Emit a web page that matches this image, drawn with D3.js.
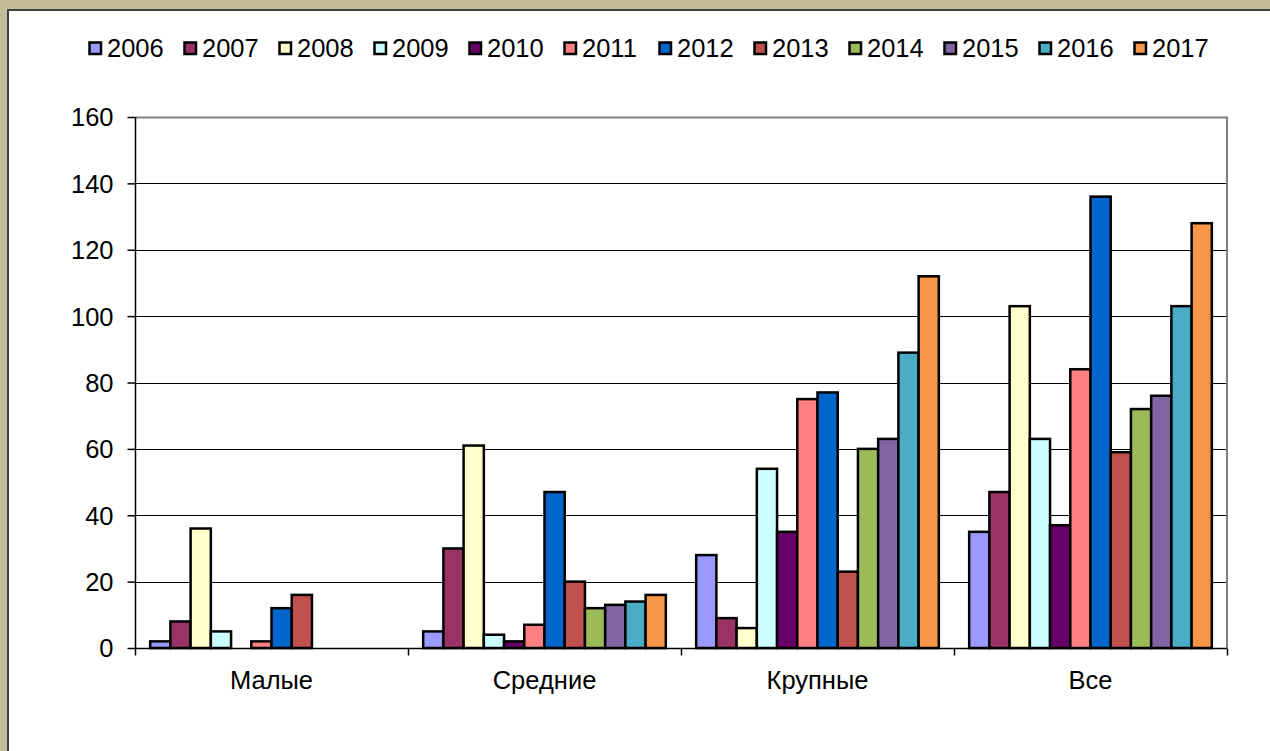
<!DOCTYPE html>
<html>
<head>
<meta charset="utf-8">
<script src="https://cdn.jsdelivr.net/npm/d3@7"></script>
<style>
  html, body { margin: 0; padding: 0; background: #c4bd98; }
  svg { display: block; }
  text { font-family: Arial, "Liberation Sans", sans-serif; fill: #000; }
</style>
</head>
<body>
<svg id="chart" width="1270" height="751"></svg>
<script>
const categories = ["Малые", "Средние", "Крупные", "Все"];
const years = ["2006","2007","2008","2009","2010","2011","2012","2013","2014","2015","2016","2017"];
const v2006 = [2, 5, 28, 35];
const v2007 = [8, 30, 9, 47];
const v2008 = [36, 61, 6, 103];
const v2009 = [5, 4, 54, 63];
const v2010 = [0, 2, 35, 37];
const v2011 = [2, 7, 75, 84];
const v2012 = [12, 47, 77, 136];
const v2013 = [16, 20, 23, 59];
const v2014 = [0, 12, 60, 72];
const v2015 = [0, 13, 63, 76];
const v2016 = [0, 14, 89, 103];
const v2017 = [0, 16, 112, 128];
const yTicks = [0, 20, 40, 60, 80, 100, 120, 140, 160];
const colors = ["#9999FF","#993366","#FFFFCC","#CCFFFF","#660066","#FF8080","#0066CC","#C0504D","#9BBB59","#8064A2","#4BACC6","#F79646"];

const seriesValues = [v2006,v2007,v2008,v2009,v2010,v2011,v2012,v2013,v2014,v2015,v2016,v2017];
const FONT = "Arial, 'Liberation Sans', sans-serif";
const FS = "25.5px";

const svg = d3.select("#chart");

// chart area (white panel with dark border on top/left)
svg.append("rect").attr("x", 8).attr("y", 10).attr("width", 1275).attr("height", 760)
  .attr("fill", "#fff").attr("stroke", "#404040").attr("stroke-width", 2);

const plot = { left: 135, right: 1227, top: 117, bottom: 648 };

const x0 = d3.scaleBand().domain(categories).range([plot.left, plot.right]).paddingInner(0).paddingOuter(0);
const x1 = d3.scaleBand().domain(years).range([0, x0.bandwidth()]).paddingInner(0).paddingOuter(0.75);
const y = d3.scaleLinear().domain([0, 160]).range([plot.bottom, plot.top]);
const color = d3.scaleOrdinal().domain(years).range(colors);

// gridlines
svg.append("g").selectAll("line").data(yTicks.filter(d => d > 0 && d < 160)).join("line")
  .attr("x1", plot.left).attr("x2", plot.right)
  .attr("y1", d => Math.round(y(d)) + 0.5).attr("y2", d => Math.round(y(d)) + 0.5)
  .attr("stroke", "#000").attr("stroke-width", 1);

// plot area border (top/right gray)
svg.append("path")
  .attr("d", `M${plot.left},${plot.top + 0.5}H${plot.right}V${plot.bottom}`)
  .attr("fill", "none").attr("stroke", "#808080").attr("stroke-width", 2);

// bars
const data = [];
categories.forEach((c, ci) => {
  years.forEach((yr, si) => {
    data.push({ cat: c, year: yr, value: seriesValues[si][ci] });
  });
});
svg.append("g").selectAll("rect").data(data.filter(d => d.value > 0)).join("rect")
  .attr("x", d => x0(d.cat) + x1(d.year))
  .attr("y", d => y(d.value))
  .attr("width", x1.bandwidth())
  .attr("height", d => y(0) - y(d.value))
  .attr("fill", d => color(d.year))
  .attr("stroke", "#000").attr("stroke-width", 2.5);

// y axis
const yAxis = d3.axisLeft(y).tickValues(yTicks).tickSize(8).tickPadding(14).tickFormat(d3.format("d"));
const gy = svg.append("g").attr("transform", `translate(${plot.left + 0.5},0)`).call(yAxis);
gy.select(".domain").attr("stroke", "#000").attr("stroke-width", 1.5).attr("d", `M0,${plot.top}V${plot.bottom}`);
gy.selectAll(".tick line").attr("stroke", "#000").attr("stroke-width", 1.5);
gy.selectAll(".tick text").style("font-size", FS).style("font-family", FONT).attr("dy", "0.35em");

// x axis
const xAxis = d3.axisBottom(x0).tickSize(0).tickPadding(0);
const gx = svg.append("g").attr("transform", `translate(0,${plot.bottom + 0.5})`).call(xAxis);
gx.select(".domain").attr("stroke", "#000").attr("stroke-width", 1.5).attr("d", `M${plot.left},0H${plot.right}`);
gx.selectAll(".tick text").style("font-size", FS).style("font-family", FONT).attr("y", 40).attr("dy", 0);
// boundary tick marks
const bounds = categories.map(c => x0(c)).concat([plot.right]);
gx.append("g").selectAll("line").data(bounds).join("line")
  .attr("x1", d => d + 0.5).attr("x2", d => d + 0.5).attr("y1", 0).attr("y2", 7)
  .attr("stroke", "#000").attr("stroke-width", 1.5);

// legend
const lx = d3.scaleBand().domain(years).range([88, 88 + 95 * years.length]);
const leg = svg.append("g").selectAll("g").data(years).join("g")
  .attr("transform", d => `translate(${lx(d)},0)`);
leg.append("rect").attr("x", 1.5).attr("y", 42.5).attr("width", 11.5).attr("height", 11.5)
  .attr("fill", d => color(d)).attr("stroke", "#000").attr("stroke-width", 2.5);
leg.append("text").attr("x", 19).attr("y", 57).style("font-size", FS).style("font-family", FONT).text(d => d);
</script>
</body>
</html>
